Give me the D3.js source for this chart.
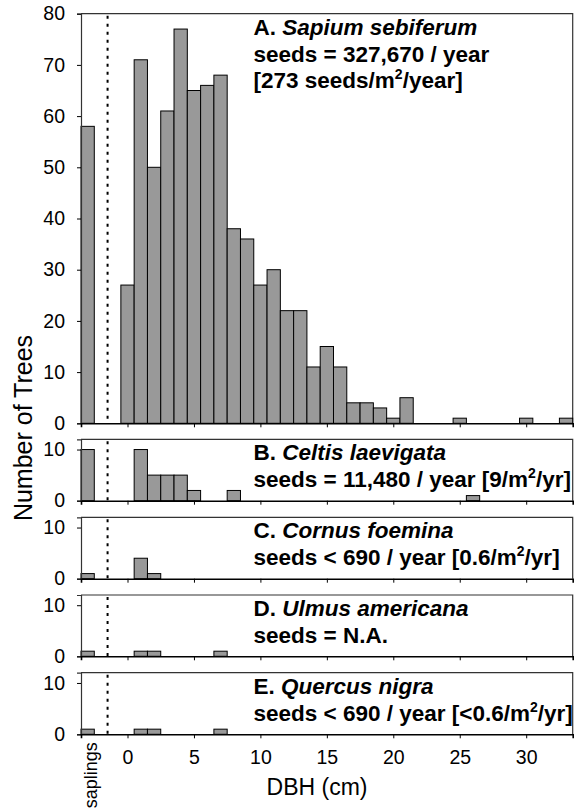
<!DOCTYPE html>
<html><head><meta charset="utf-8">
<script src="https://cdn.jsdelivr.net/npm/d3@7"></script>
<style>body{margin:0;background:#fff} svg{display:block;font-family:"Liberation Sans",Arial,Helvetica,sans-serif}</style>
</head><body><svg id="chart" width="583" height="808"></svg>
<script>
// ---- data ----
const saplingsLabel = "saplings";
const saplingsPos = -3;          // position of the saplings class on the DBH axis
const dividerPos = -1.5;         // dotted separator
const dbhClasses = [0,1,2,3,4,5,6,7,8,9,10,11,12,13,14,15,16,17,18,19,20,21,22,23,24,25,26,27,28,29,30,31,32,33];
const saplingsCounts = [58, 10, 1, 1, 1];
const countsA = [27,71,50,61,77,65,66,68,38,36,27,30,22,22,11,15,11,4,4,3,1,5,0,0,0,1,0,0,0,0,1,0,0,1];
const countsB = [0,10,5,5,5,2,0,0,2,0,0,0,0,0,0,0,0,0,0,0,0,0,0,0,0,0,1,0,0,0,0,0,0,0];
const countsC = [0,4,1,0,0,0,0,0,0,0,0,0,0,0,0,0,0,0,0,0,0,0,0,0,0,0,0,0,0,0,0,0,0,0];
const countsD = [0,1,1,0,0,0,0,1,0,0,0,0,0,0,0,0,0,0,0,0,0,0,0,0,0,0,0,0,0,0,0,0,0,0];
const countsE = [0,1,1,0,0,0,0,1,0,0,0,0,0,0,0,0,0,0,0,0,0,0,0,0,0,0,0,0,0,0,0,0,0,0];
const panelLetters = ["A.", "B.", "C.", "D.", "E."];
const species = ["Sapium sebiferum", "Celtis laevigata", "Cornus foemina", "Ulmus americana", "Quercus nigra"];
const seedLines = [
  ["seeds = 327,670 / year", "[273 seeds/m^2/year]"],
  ["seeds = 11,480 / year [9/m^2/yr]"],
  ["seeds < 690 / year [0.6/m^2/yr]"],
  ["seeds = N.A."],
  ["seeds < 690 / year [<0.6/m^2/yr]"]
];
const yMaxes = [80, 12, 12, 12, 12];
const yTicksA = [0,10,20,30,40,50,60,70,80];
const yTicksSmall = [0,10];
const xTicks = [0,5,10,15,20,25,30];
const xDomain = [-3.5, 33.5];
const xTitle = "DBH (cm)";
const yTitle = "Number of Trees";

// ---- layout ----
const svg = d3.select("#chart");
const left = 81, right = 572.7;
const panels = [
  {top: 13.7, bottom: 423.3},
  {top: 439.3, bottom: 500.7},
  {top: 517.3, bottom: 578.7},
  {top: 595.0, bottom: 656.3},
  {top: 672.7, bottom: 734.3}
];
const allCounts = [countsA, countsB, countsC, countsD, countsE];
const x = d3.scaleLinear().domain(xDomain).range([left, right]);
const bw = x(1) - x(0);
const FS_TEXT = 22.5;
const FS_TICK = 19.5;

panels.forEach((p, i) => {
  const y = d3.scaleLinear().domain([0, yMaxes[i]]).range([p.bottom, p.top]);
  const g = svg.append("g");
  // frame top/right
  g.append("path")
    .attr("d", `M${left},${p.top}H${right}V${p.bottom}`)
    .attr("fill", "none").attr("stroke", "#333").attr("stroke-width", 1.2);
  // bars
  const bars = [{pos: saplingsPos, v: saplingsCounts[i]}]
    .concat(dbhClasses.map((c, k) => ({pos: c, v: allCounts[i][k]})))
    .filter(d => d.v > 0);
  g.selectAll("rect").data(bars).join("rect")
    .attr("x", d => x(d.pos - 0.5))
    .attr("width", bw)
    .attr("y", d => y(d.v))
    .attr("height", d => y(0) - y(d.v))
    .attr("fill", "#999999").attr("stroke", "#000").attr("stroke-width", 1);
  // dotted divider
  g.append("line")
    .attr("x1", x(dividerPos)).attr("x2", x(dividerPos))
    .attr("y1", p.top + 2).attr("y2", p.bottom)
    .attr("stroke", "#000").attr("stroke-width", 2).attr("stroke-dasharray", "3,5");
  // y axis
  const ya = d3.axisLeft(y).tickValues(i === 0 ? yTicksA : yTicksSmall).tickSize(4).tickPadding(12);
  const yg = g.append("g").attr("transform", `translate(${left},0)`).call(ya);
  yg.select(".domain").attr("stroke", "#333").attr("stroke-width", 1.2);
  yg.selectAll("text").attr("font-size", FS_TICK).attr("font-family", "Liberation Sans, Arial, sans-serif").attr("fill", "#000");
  // x axis
  const xa = d3.axisBottom(x).tickValues(xTicks).tickSize(4).tickPadding(12)
    .tickFormat(i === 4 ? d3.format("d") : () => "");
  const xg = g.append("g").attr("transform", `translate(0,${p.bottom})`).call(xa);
  xg.select(".domain").attr("stroke", "#000").attr("stroke-width", 1.6);
  xg.selectAll("text").attr("font-size", FS_TICK).attr("font-family", "Liberation Sans, Arial, sans-serif").attr("fill", "#000");
  // panel text
  const tx = 253.5;
  const t1 = g.append("text").attr("x", tx).attr("y", p.top + 21)
    .attr("font-size", FS_TEXT).attr("font-weight", "bold");
  t1.append("tspan").text(panelLetters[i] + " ");
  t1.append("tspan").attr("font-style", "italic").text(species[i]);
  seedLines[i].forEach((line, j) => {
    const t = g.append("text").attr("x", tx).attr("y", p.top + 21 + 26.8 * (j + 1))
      .attr("font-size", FS_TEXT).attr("font-weight", "bold");
    const parts = line.split("^2");
    parts.forEach((part, k) => {
      const ts = t.append("tspan").text(part);
      if (k > 0) ts.attr("dy", 9);
      if (k < parts.length - 1) {
        t.append("tspan").attr("dy", -9).attr("font-size", 14).text("2");
      }
    });
  });
});

// saplings label
const bottomP = panels[4];
svg.append("text")
  .attr("transform", `translate(${x(saplingsPos) + 9.5},${bottomP.bottom + 8}) rotate(-90)`)
  .attr("text-anchor", "end").attr("font-size", 18).text(saplingsLabel);

// axis titles
svg.append("text").attr("x", 317).attr("y", 795)
  .attr("text-anchor", "middle").attr("font-size", 23).text(xTitle);
svg.append("text").attr("transform", "translate(32,428) rotate(-90)")
  .attr("text-anchor", "middle").attr("font-size", 25).text(yTitle);
</script></body></html>
